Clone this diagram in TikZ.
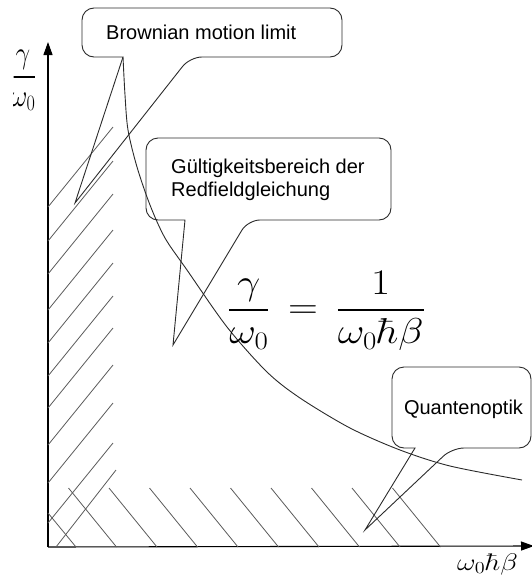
\RequirePackage{fix-cm}
\documentclass[tikz,border=0pt]{standalone}
\usepackage{amsmath,amssymb}
\usepackage{graphicx}
\usepackage{fontspec}
\newfontfamily\calloutfont{Liberation Sans}
\usetikzlibrary{arrows.meta}
\definecolor{ink}{HTML}{2B2B2B}
\definecolor{shade}{HTML}{5A5A5A}

\begin{document}
\begin{tikzpicture}[x=1pt,y=-1pt,
  axis/.style={line width=1.1pt,-{Triangle[length=13pt,width=9pt]}},
  bubble/.style={draw=ink,line width=0.9pt},
  hatchline/.style={draw=shade,line width=0.8pt},
  curveline/.style={draw=ink,line width=0.9pt},
  tag/.style={font=\calloutfont\fontsize{20}{23}\selectfont,inner sep=0pt,align=left},
  eq/.style={inner sep=0pt}
]
\useasboundingbox (0,0) rectangle (532,581);
\coordinate (origin) at (48,547);
\coordinate (ytip) at (48,42);
\coordinate (xtip) at (534,546);
\draw[axis] (origin) -- (ytip);
\draw[axis] (origin) -- (xtip);
\foreach \y in {207,241,274,310,343,376,408,445,483,523}
  \draw[hatchline] (48,\y) -- (113,\y-80);
\draw[hatchline] (56,547) -- (116,470);
\draw[hatchline] (48,513) -- (76,547);
\foreach \x in {68.5,109,149.5,190,230.5,271,311.5,352,392.5}
  \draw[hatchline] (\x,488) -- (\x+48,547);
\draw[curveline] plot[smooth] coordinates {(123,57) (125,95) (128,130) (137,167)
  (150,205) (165,238) (187,270) (227,327) (267,372) (300,398) (350,428)
  (400,450) (450,466) (522,480)};
\coordinate (browniantip) at (75,203);
\coordinate (validitytip) at (173,345);
\coordinate (quantumtip) at (365,530);
\draw[bubble] (browniantip) -- (123,57) [rounded corners=12pt] -- (82,57) -- (82,8)
  -- (342,8) -- (342,57) -- (190,57) [sharp corners] -- cycle;
\draw[bubble] (validitytip) -- (185,220) [rounded corners=12pt] -- (146,220) -- (146,138)
  -- (391,138) -- (391,220) -- (248,220) [sharp corners] -- cycle;
\draw[bubble] (quantumtip) -- (415,448) [rounded corners=12pt] -- (392,448) -- (392,367)
  -- (531,367) -- (531,448) -- (452,448) [sharp corners] -- cycle;
\node[tag,anchor=base west] (brownian) at (106,39) {Brownian motion limit};
\node[tag,anchor=west] (validity) at (171,180) {Gültigkeitsbereich der\\Redfieldgleichung};
\node[tag,anchor=base] (quantum) at (463.5,414) {Quantenoptik};
\node[eq,font=\fontsize{36}{43}\selectfont] (relation) at (326.5,311)
  {\scalebox{1.15}[1]{$\dfrac{\gamma}{\omega_0}\,=\,\dfrac{1}{\omega_0\hbar\beta}$}};
\node[eq,font=\fontsize{24}{29}\selectfont,anchor=base west] (xlabel) at (457,570)
  {\scalebox{1.2}[1]{$\omega_0\hbar\beta$}};
\begin{scope}
  \clip (13.5,35) rectangle (46,120);
  \node[eq,font=\fontsize{26}{31}\selectfont] (ylabel) at (23,80.5)
    {\scalebox{1}[1.2]{$\dfrac{\gamma}{\omega_0}$}};
\end{scope}
\end{tikzpicture}
\end{document}
